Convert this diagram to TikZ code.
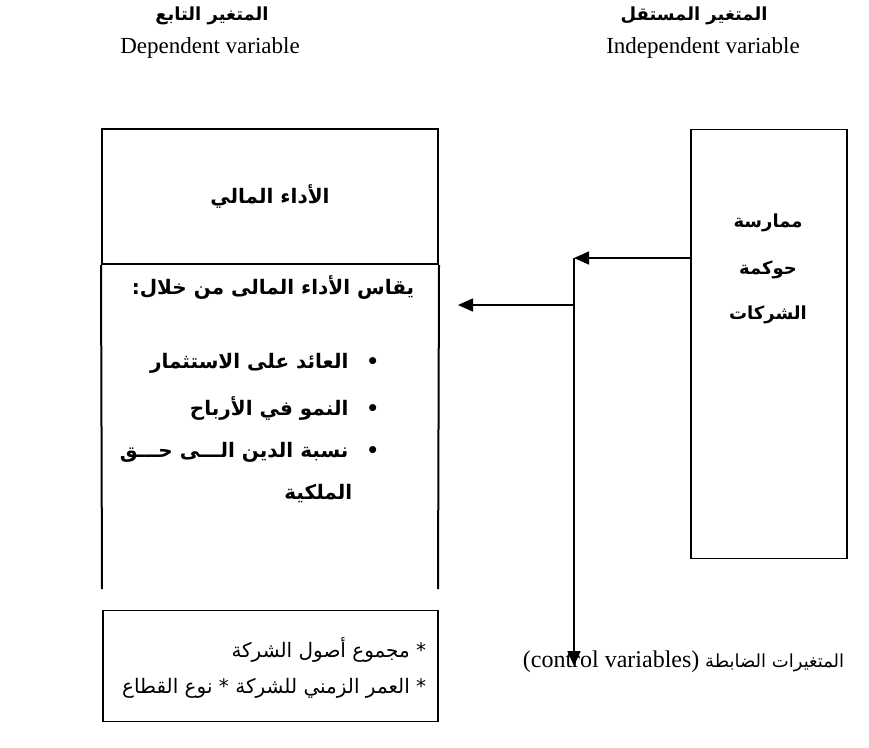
\documentclass[tikz,border=0pt]{standalone}
\usepackage{fontspec}
\setmainfont{Liberation Serif}
\newfontfamily\arabicfont[Script=Arabic]{DejaVu Sans}
\usetikzlibrary{arrows.meta,positioning}
\TeXXeTstate=1
\newcommand\artext[1]{\arabicfont\beginR #1\endR}

\begin{document}
\begin{tikzpicture}[%
    x=1pt, y=-1pt,
    >={Triangle[length=15pt,width=13pt]},
    line width=1.6pt,
    box/.style={draw, line width=2pt},
    head/.style={font=\arabicfont\bfseries\fontsize{18}{22}\selectfont, inner sep=0pt},
    eng/.style={font=\fontsize{23}{26}\selectfont, inner sep=0pt},
    item/.style={head, font=\arabicfont\bfseries\fontsize{20}{24}\selectfont, anchor=east},
    plain/.style={font=\arabicfont\fontsize{20}{24}\selectfont, inner sep=0pt, anchor=east}]
    \useasboundingbox (0,0) rectangle (869,747);

    % headings
    \node[head] (dep_ar) at (212,16) {\artext{المتغير التابع}};
    \node[eng]  (dep_en) at (210,48) {Dependent variable};
    \node[head] (ind_ar) at (694,16) {\artext{المتغير المستقل}};
    \node[eng]  (ind_en) at (703,48) {Independent variable};

    % dependent box
    \node[box, minimum width=336pt, minimum height=135pt] (perf) at (270,196.5) {};
    \node[item, anchor=center] (perf_t) at (perf.center) {\artext{الأداء المالي}};
    \coordinate (perf_bl) at (102,589);
    \coordinate (perf_br) at (438,589);
    \draw[line width=2pt] (perf.south west) -- (perf_bl);
    \draw[line width=2pt] (perf.south east) -- (perf_br);
    \node[item] (measure) at (415,287) {\artext{يقاس الأداء المالى من خلال:}};
    \node[item] (item_a) at (380,363) {\artext{•\hspace{18pt}العائد على الاستثمار}};
    \node[item] (item_b) at (380,408) {\artext{•\hspace{18pt}النمو في الأرباح}};
    \node[item] (item_c) at (380,452) {\artext{•\hspace{18pt}نسبة الدين الـــى حـــق}};
    \node[item] (item_d) at (353,494) {\artext{الملكية}};

    % independent box
    \node[box, line width=1.8pt, minimum width=156pt, minimum height=429pt] (gov) at (769,344) {};
    \node[head] (gov_a) at (768,223) {\artext{ممارسة}};
    \node[head] (gov_b) at (768,270) {\artext{حوكمة}};
    \node[head] (gov_c) at (768,315) {\artext{الشركات}};

    % control variables
    \node[box, line width=1.8pt, minimum width=335pt, minimum height=111pt] (ctrl) at (270.5,666) {};
    \node[plain] (ctrl_a) at (427,650) {\artext{* مجموع أصول الشركة}};
    \node[plain] (ctrl_b) at (427,688) {\artext{* العمر الزمني للشركة * نوع القطاع}};
    \node[plain, font=\arabicfont\fontsize{18}{22}\selectfont] (ctrl_lbl) at (845,662)
        {\artext{المتغيرات الضابطة {\rmfamily\fontsize{24}{26}\selectfont\beginL(control variables)\endL}}};

    % connectors
    \coordinate (split) at (574,258);
    \coordinate (branch) at (574,305);
    \coordinate (ctrl_end) at (574,666);
    \coordinate (perf_end) at (458,305);
    \draw[->] (gov.west |- split) -- (split);
    \draw[->] (split) -- (ctrl_end);
    \draw[->] (branch) -- (perf_end);
\end{tikzpicture}
\end{document}
